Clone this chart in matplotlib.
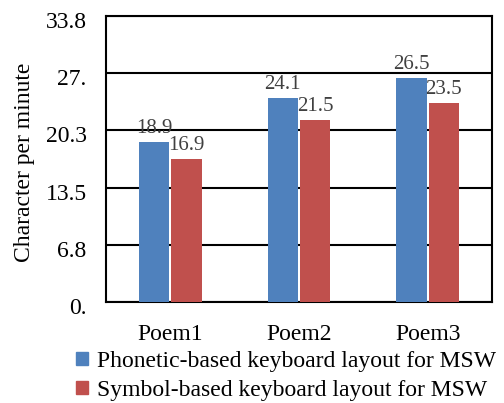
import matplotlib

matplotlib.use("Agg")
from matplotlib import pyplot as plt
from matplotlib.patches import Patch
from matplotlib.transforms import ScaledTranslation
import numpy as np

categories = ["Poem1", "Poem2", "Poem3"]
phonetic = [18.9, 24.1, 26.5]
symbol = [16.9, 21.5, 23.5]
ytick_values = [0, 6.76, 13.52, 20.28, 27.04, 33.8]
ytick_labels = ["0.", "6.8", "13.5", "20.3", "27.", "33.8"]
series_names = ["Phonetic-based keyboard layout for MSW",
                "Symbol-based keyboard layout for MSW"]

plt.rcParams["font.family"] = ["Liberation Serif", "DejaVu Serif"]

blue = "#4f81bd"
red = "#c0504d"

fig = plt.figure(figsize=(5.04, 4.03), dpi=100)
ax = fig.add_axes([106 / 504, 1 - 302 / 403, 386 / 504, 286 / 403])

x = np.arange(len(categories))
w = 0.235
gap = 0.008
b1 = ax.bar(x - w / 2 - gap, phonetic, w, color=blue, zorder=3)
b2 = ax.bar(x + w / 2 + gap, symbol, w, color=red, zorder=3)

for bars, vals in ((b1, phonetic), (b2, symbol)):
    for r, v in zip(bars, vals):
        ax.text(r.get_x() + r.get_width() / 2, v + 0.5, f"{v}",
                ha="center", va="bottom", fontsize=15, color="#404040", zorder=4)

ax.set_xlim(-0.5, 2.5)
ax.set_ylim(0, 33.8)
ax.set_yticks(ytick_values)
ax.set_yticklabels(ytick_labels, fontsize=17)
ax.set_xticks(x)
ax.set_xticklabels(categories, fontsize=17)
ax.tick_params(axis="y", length=0, pad=14)
ax.tick_params(axis="x", length=0, pad=16)
shift = ScaledTranslation(0, -4 / 100, fig.dpi_scale_trans)
for lab in ax.get_yticklabels():
    lab.set_transform(lab.get_transform() + shift)
ax.yaxis.grid(True, color="black", linewidth=1.5, zorder=0)
for s in ax.spines.values():
    s.set_linewidth(1.5)
ax.set_ylabel("Character per minute", fontsize=17)
ax.yaxis.set_label_coords(-0.184, 0.49)

handles = [Patch(color=blue), Patch(color=red)]
fig.legend(handles, series_names, loc="upper left", bbox_to_anchor=(76 / 504, 1 - 351 / 403),
           frameon=False, fontsize=17, handlelength=0.5, handleheight=0.5,
           handletextpad=0.4, labelspacing=0.33, borderaxespad=0, borderpad=0)

fig.savefig("out.png", dpi=100)
